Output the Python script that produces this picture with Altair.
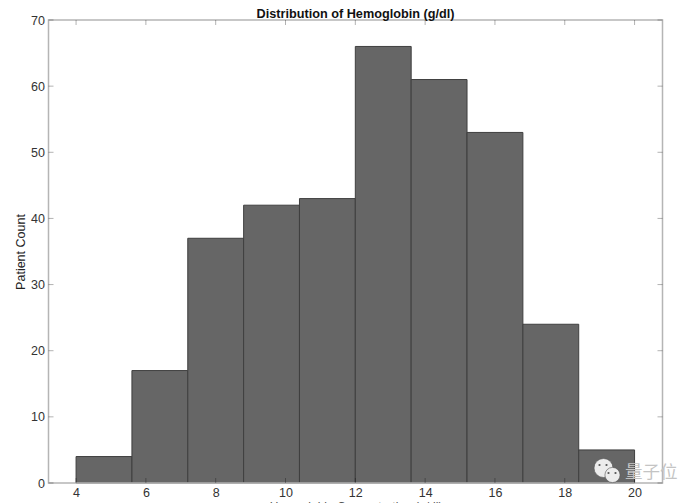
import altair as alt
import pandas as pd

bin_start = [4.0, 5.6, 7.2, 8.8, 10.4, 12.0, 13.6, 15.2, 16.8, 18.4]
bin_end = [5.6, 7.2, 8.8, 10.4, 12.0, 13.6, 15.2, 16.8, 18.4, 20.0]
counts = [4, 17, 37, 42, 43, 66, 61, 53, 24, 5]
x_ticks = [4, 6, 8, 10, 12, 14, 16, 18, 20]
y_ticks = [0, 10, 20, 30, 40, 50, 60, 70]
watermark = ["量子位"]

df = pd.DataFrame({"a": bin_start, "b": bin_end, "c": counts})
FONT = "Liberation Sans"
W, H = 614, 463
TICK = 5

x = alt.X("a:Q", scale=alt.Scale(domain=[3.21, 20.8], nice=False, zero=False),
          axis=alt.Axis(values=x_ticks, title="Hemoglobin Concentration (g/dl)", grid=False, domain=False,
                        ticks=False, labelFont=FONT, labelFontSize=12.5,
                        labelColor="#333333", labelPadding=3, titleFont=FONT, titleFontSize=12,
                        titleFontWeight="normal", titleColor="#555555", titlePadding=3))
y = alt.Y("c:Q", scale=alt.Scale(domain=[0, 70], nice=False),
          axis=alt.Axis(values=y_ticks, title="Patient Count", grid=False, domain=False,
                        ticks=False, labelFont=FONT, labelFontSize=12.5,
                        labelColor="#333333", labelPadding=4, titleFont=FONT, titleFontSize=12.5,
                        titleFontWeight="normal", titleColor="#222222", titlePadding=3))

bars = alt.Chart(df).mark_rect(color="#666666", stroke="#3f3f3f", strokeWidth=1).encode(
    x=x, x2="b:Q", y=y, y2=alt.datum(0))

frame = alt.Chart(pd.DataFrame({"k": [0]})).mark_rect(
    fill=None, stroke="#b5b5b5", strokeWidth=1.5
).encode(x=alt.value(0), x2=alt.value(W), y=alt.value(0), y2=alt.value(H))

xt = pd.DataFrame({"t": x_ticks})
yt = pd.DataFrame({"t": y_ticks})
tick_style = dict(color="#000000", opacity=0.3, strokeWidth=1)
ticks = [
    alt.Chart(xt).mark_rule(**tick_style).encode(x=alt.X("t:Q"), y=alt.value(0), y2=alt.value(TICK)),
    alt.Chart(xt).mark_rule(**tick_style).encode(x=alt.X("t:Q"), y=alt.value(H - TICK), y2=alt.value(H)),
    alt.Chart(yt).mark_rule(**tick_style).encode(y=alt.Y("t:Q"), x=alt.value(0), x2=alt.value(TICK)),
    alt.Chart(yt).mark_rule(**tick_style).encode(y=alt.Y("t:Q"), x=alt.value(W - TICK), x2=alt.value(W)),
]

one = pd.DataFrame({"label": watermark})


def bubble(px, py, size, fill, shape="circle"):
    return alt.Chart(one).mark_point(filled=True, shape=shape, size=size, fill=fill, stroke="#555555",
                                     strokeWidth=0.6, opacity=1).encode(
        x=alt.value(px), y=alt.value(py))


def eye(px, py):
    return alt.Chart(one).mark_point(filled=True, shape="circle", size=5, fill="#555555",
                                     strokeWidth=0, opacity=1).encode(
        x=alt.value(px), y=alt.value(py))


wm = [
    bubble(555, 448, 360, "#ececec"),
    eye(551, 445), eye(558, 445),
    bubble(564, 455, 230, "#ececec"),
    eye(560, 453), eye(567, 453),
    alt.Chart(one).mark_text(font="Noto Sans CJK SC", fontSize=17.5, color="#c4c4c4", align="left",
                             baseline="middle").encode(
        text="label:N", x=alt.value(576.5), y=alt.value(453)),
]

chart = alt.layer(bars, frame, *ticks, *wm).properties(
    width=W, height=H,
    title=alt.TitleParams("Distribution of Hemoglobin (g/dl)", font=FONT, fontSize=12.7,
                          fontWeight="bold", color="#111111", offset=-7, anchor="middle"),
    padding={"left": 6.5, "top": 0, "right": 0, "bottom": 0},
).configure_view(stroke=None)

chart.save("out.html", embed_options={"renderer": "svg", "actions": False})
